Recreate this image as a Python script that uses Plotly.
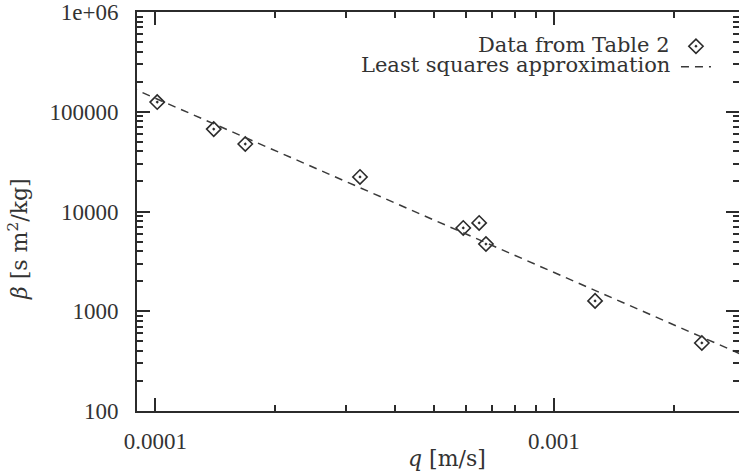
import numpy as np
import plotly.graph_objects as go

# Data (Table 2)
q_data = [1.01e-4, 1.40e-4, 1.68e-4, 3.26e-4, 5.92e-4, 6.49e-4, 6.75e-4, 1.268e-3, 2.35e-3]
beta_data = [125000, 67000, 47500, 22200, 6840, 7680, 4720, 1270, 481]

# Extent over which the least-squares line is drawn
fit_q = [8e-5, 4e-3]

# Axis ticks
x_tickvals = [1e-4, 1e-3]
x_ticktext = ["0.0001", "0.001"]
y_tickvals = [1e2, 1e3, 1e4, 1e5, 1e6]
y_ticktext = ["100", "1000", "10000", "100000", "1e+06"]

legend_labels = ["Data from Table 2", "Least squares approximation"]
x_title = "<i>q</i> [m/s]"
y_title = "<i>β</i> [s m<sup>2</sup>/kg]"

# least squares in log-log space
coef = np.polyfit(np.log10(q_data), np.log10(beta_data), 1)
fit_beta = 10 ** np.polyval(coef, np.log10(fit_q))

ink = "#2b2b2b"
text_col = "#333333"
tick_font = "Liberation Serif, DejaVu Serif, serif"
label_font = "DejaVu Serif, Liberation Serif, serif"

fig = go.Figure()
fig.add_trace(go.Scatter(
    x=q_data, y=beta_data, mode="markers", name=" ",
    marker=dict(symbol="diamond-open-dot", size=11, color=ink, line=dict(width=1.6, color=ink)),
    hoverinfo="skip",
))
fig.add_trace(go.Scatter(
    x=fit_q, y=fit_beta, mode="lines", name=" ",
    line=dict(color="#3a3a3a", width=1.5, dash="8px,6px"),
    hoverinfo="skip",
))

axis_common = dict(
    showgrid=False, zeroline=False, automargin=False,
    showline=True, linecolor=ink, linewidth=2, mirror="allticks",
    ticks="inside", ticklen=13, tickwidth=2, tickcolor=ink,
    tickfont=dict(family=tick_font, size=23, color=text_col),
    minor=dict(ticks="inside", ticklen=6, tickwidth=2, tickcolor=ink, dtick="D1", showgrid=False),
)

fig.update_xaxes(
    type="log", range=[-4.0464, -2.5357],
    tickvals=x_tickvals, ticktext=x_ticktext, ticklabelstandoff=8,
    **axis_common,
)
fig.update_yaxes(
    type="log", range=[2, 6],
    tickvals=y_tickvals, ticktext=y_ticktext, ticklabelstandoff=12,
    **axis_common,
)

# axis titles
fig.add_annotation(xref="paper", yref="paper", x=0.515, y=-0.118, text=x_title,
                   showarrow=False, xanchor="center", yanchor="middle",
                   font=dict(family=label_font, size=22, color=text_col))
fig.add_annotation(xref="paper", yref="paper", x=-0.1977, y=0.431, text=y_title,
                   showarrow=False, xanchor="center", yanchor="middle", textangle=-90,
                   font=dict(family=label_font, size=22, color=text_col))

# legend texts (symbols sit to the right of the text, as in the reference)
fig.add_annotation(xref="paper", yref="paper", x=0.8887, y=0.9173, text=legend_labels[0],
                   showarrow=False, xanchor="right", yanchor="middle",
                   font=dict(family=label_font, size=21, color=text_col))
fig.add_annotation(xref="paper", yref="paper", x=0.8887, y=0.867, text=legend_labels[1],
                   showarrow=False, xanchor="right", yanchor="middle",
                   font=dict(family=label_font, size=21, color=text_col))

fig.update_layout(
    width=739, height=472,
    margin=dict(l=137, r=0, t=12, b=61),
    paper_bgcolor="white", plot_bgcolor="white",
    showlegend=True,
    legend=dict(x=0.8953, y=0.9525, xanchor="left", yanchor="top",
                bgcolor="rgba(0,0,0,0)", borderwidth=0,
                font=dict(size=13.5, family=label_font), itemwidth=30),
)

fig.write_html("out.html")
